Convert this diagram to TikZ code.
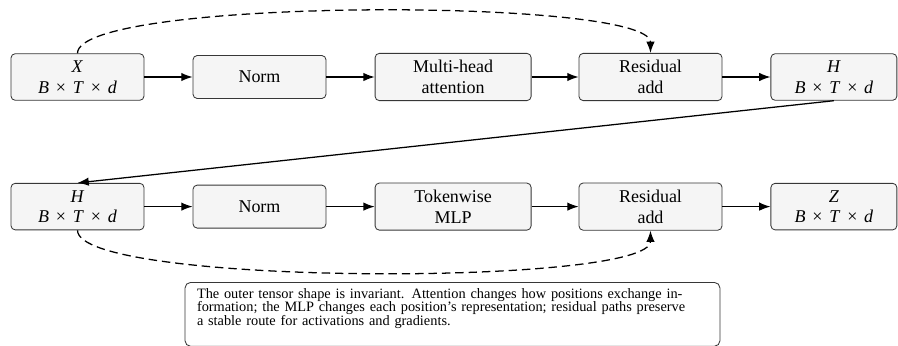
\documentclass[tikz,border=0pt]{standalone}
\usepackage{fontspec}
\setmainfont{Liberation Serif}
\definecolor{blockfill}{RGB}{245, 245, 245}
\definecolor{blockedge}{RGB}{55, 55, 55}
\usetikzlibrary{arrows.meta}
\newcommand{\shapeBTd}{\textit{B}\hspace{0.38em}×\hspace{0.38em}\textit{T}\hspace{0.38em}×\hspace{0.38em}\textit{d}}

\begin{document}
\begin{tikzpicture}[
  block/.style={draw=blockedge, fill=blockfill, rounded corners=3pt, line width=0.6pt, align=center, minimum height=1.075cm, inner ysep=5pt, font=\fontsize{12.8}{14.6}\selectfont},
  flow/.style={-{Latex[length=8pt, width=6pt]}, line width=0.9pt},
  skip/.style={flow, dash pattern=on 6pt off 3.5pt}
]
  \useasboundingbox (-1.9375, 1.925) rectangle (20.5125, -6.7);

  % Attention half
  \node[block, minimum width=3.325cm] (x) at (0, 0) {\textit{X}\\\shapeBTd};
  \node[block, minimum width=3.325cm] (norm1) at (4.55, 0) {Norm};
  \node[block, minimum width=3.9cm] (mha) at (9.39, 0) {Multi-head\\attention};
  \node[block, minimum width=3.575cm] (res1) at (14.325, 0) {Residual\\add};
  \node[block, minimum width=3.15cm] (h1) at (18.91, 0) {\textit{H}\\\shapeBTd};

  \draw[flow] (x) -- (norm1);
  \draw[flow] (norm1) -- (mha);
  \draw[flow] (mha) -- (res1);
  \draw[flow] (res1) -- (h1);
  \draw[skip] (x.north) to[out=90, in=90, looseness=0.25] (res1.north);

  % MLP half
  \node[block, minimum width=3.325cm] (h2) at (0, -3.24) {\textit{H}\\\shapeBTd};
  \node[block, minimum width=3.325cm] (norm2) at (4.55, -3.24) {Norm};
  \node[block, minimum width=3.9cm] (mlp) at (9.39, -3.24) {Tokenwise\\MLP};
  \node[block, minimum width=3.575cm] (res2) at (14.325, -3.24) {Residual\\add};
  \node[block, minimum width=3.15cm] (z) at (18.91, -3.24) {\textit{Z}\\\shapeBTd};

  \draw[flow] (h1.south) -- (h2.north);
  \draw[flow] (h2) -- (norm2);
  \draw[flow] (norm2) -- (mlp);
  \draw[flow] (mlp) -- (res2);
  \draw[flow] (res2) -- (z);
  \draw[skip] (h2.south) to[out=-90, in=-90, looseness=0.25] (res2.south);

  % Note
  \node[draw=blockedge, fill=white, rounded corners=4pt, line width=0.6pt, anchor=north, text width=12.775cm, align=left, inner xsep=0.3cm, inner ysep=0.16cm, font=\fontsize{10.2}{8.9}\selectfont] (note) at (9.375, -5.125) {
    \lineskiplimit=-3pt\lineskip=0pt
    The outer tensor shape is invariant. Attention changes how positions exchange in-\\
    formation; the MLP changes each position's representation; residual paths preserve\\
    a stable route for activations and gradients.\rule[-0.35cm]{0pt}{0.35cm}
  };
\end{tikzpicture}
\end{document}
